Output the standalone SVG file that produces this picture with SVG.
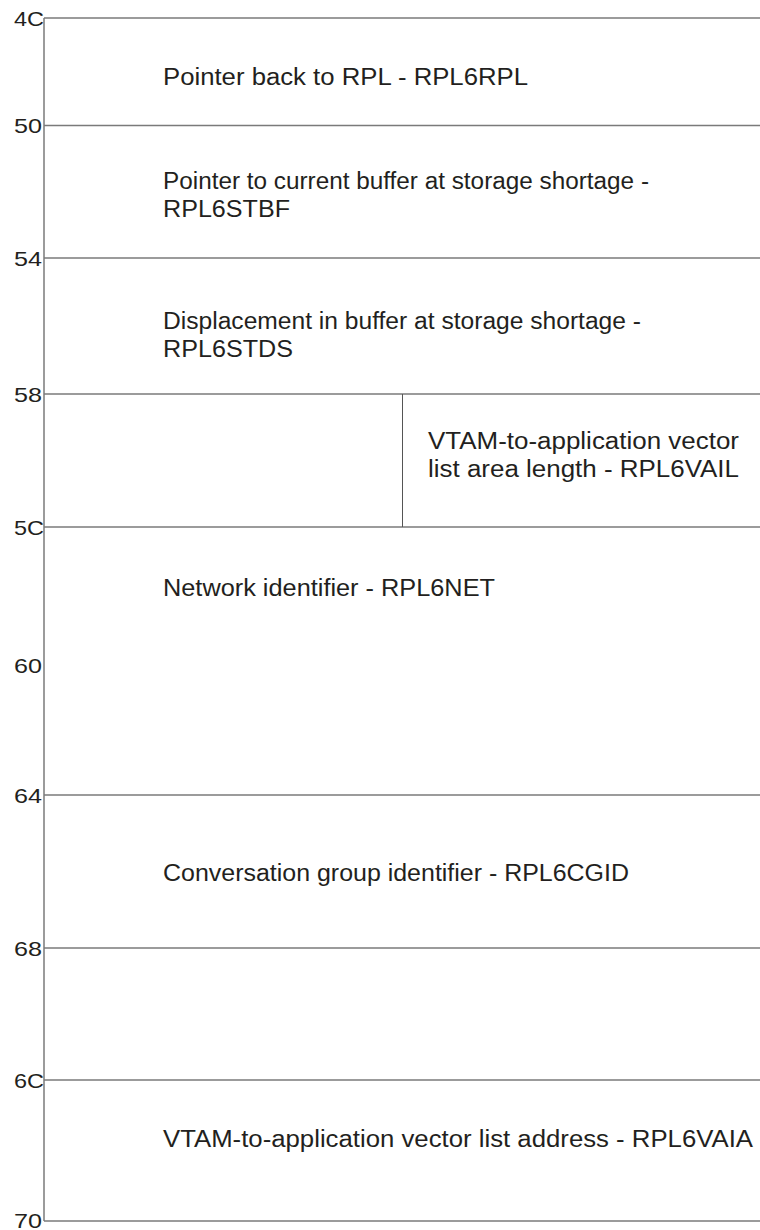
<svg xmlns="http://www.w3.org/2000/svg" width="760" height="1230" viewBox="0 0 760 1230">
<style>
.ln{stroke:#7a7a7a;stroke-width:1.5;fill:none}
.dv{stroke:#555;stroke-width:1;fill:none}
.t{font-family:"Liberation Sans",Arial,Helvetica,sans-serif;font-size:23px;fill:#231f20}
.lb{font-family:"Liberation Sans",Arial,Helvetica,sans-serif;font-size:21px;fill:#231f20;text-anchor:end}
</style>
<rect width="760" height="1230" fill="#fff"/>
<g id="frame">
<line class="ln" x1="44" y1="18" x2="44" y2="1221"/>
<line class="ln" x1="44" y1="18" x2="760" y2="18"/>
<line class="ln" x1="44" y1="125.5" x2="760" y2="125.5"/>
<line class="ln" x1="44" y1="258" x2="760" y2="258"/>
<line class="ln" x1="44" y1="394" x2="760" y2="394"/>
<line class="ln" x1="44" y1="527" x2="760" y2="527"/>
<line class="ln" x1="44" y1="795" x2="760" y2="795"/>
<line class="ln" x1="44" y1="948" x2="760" y2="948"/>
<line class="ln" x1="44" y1="1080" x2="760" y2="1080"/>
<line class="ln" x1="44" y1="1221" x2="760" y2="1221"/>
<line class="dv" x1="402.5" y1="394" x2="402.5" y2="527"/>
</g>
<g id="offsets">
<text class="lb" x="44" y="26" textLength="30" lengthAdjust="spacingAndGlyphs">4C</text>
<text class="lb" x="42" y="133" textLength="28" lengthAdjust="spacingAndGlyphs">50</text>
<text class="lb" x="42" y="266" textLength="28" lengthAdjust="spacingAndGlyphs">54</text>
<text class="lb" x="42" y="402" textLength="28" lengthAdjust="spacingAndGlyphs">58</text>
<text class="lb" x="44" y="535" textLength="30" lengthAdjust="spacingAndGlyphs">5C</text>
<text class="lb" x="42" y="673" textLength="28" lengthAdjust="spacingAndGlyphs">60</text>
<text class="lb" x="42" y="803" textLength="28" lengthAdjust="spacingAndGlyphs">64</text>
<text class="lb" x="42" y="956" textLength="28" lengthAdjust="spacingAndGlyphs">68</text>
<text class="lb" x="44" y="1088" textLength="30" lengthAdjust="spacingAndGlyphs">6C</text>
<text class="lb" x="42" y="1228" textLength="28" lengthAdjust="spacingAndGlyphs">70</text>
</g>
<g id="field-RPL6RPL">
<text class="t" x="163" y="85" textLength="365" lengthAdjust="spacingAndGlyphs">Pointer back to RPL - RPL6RPL</text>
</g>
<g id="field-RPL6STBF">
<text class="t" x="163" y="189" textLength="486" lengthAdjust="spacingAndGlyphs">Pointer to current buffer at storage shortage -</text>
<text class="t" x="163" y="217" textLength="127" lengthAdjust="spacingAndGlyphs">RPL6STBF</text>
</g>
<g id="field-RPL6STDS">
<text class="t" x="163" y="329" textLength="478" lengthAdjust="spacingAndGlyphs">Displacement in buffer at storage shortage -</text>
<text class="t" x="163" y="357" textLength="130" lengthAdjust="spacingAndGlyphs">RPL6STDS</text>
</g>
<g id="field-RPL6VAIL">
<text class="t" x="428" y="449" textLength="311" lengthAdjust="spacingAndGlyphs">VTAM-to-application vector</text>
<text class="t" x="428" y="477" textLength="311" lengthAdjust="spacingAndGlyphs">list area length - RPL6VAIL</text>
</g>
<g id="field-RPL6NET">
<text class="t" x="163" y="596" textLength="332" lengthAdjust="spacingAndGlyphs">Network identifier - RPL6NET</text>
</g>
<g id="field-RPL6CGID">
<text class="t" x="163" y="881" textLength="466" lengthAdjust="spacingAndGlyphs">Conversation group identifier - RPL6CGID</text>
</g>
<g id="field-RPL6VAIA">
<text class="t" x="163" y="1147" textLength="590" lengthAdjust="spacingAndGlyphs">VTAM-to-application vector list address - RPL6VAIA</text>
</g>
</svg>
